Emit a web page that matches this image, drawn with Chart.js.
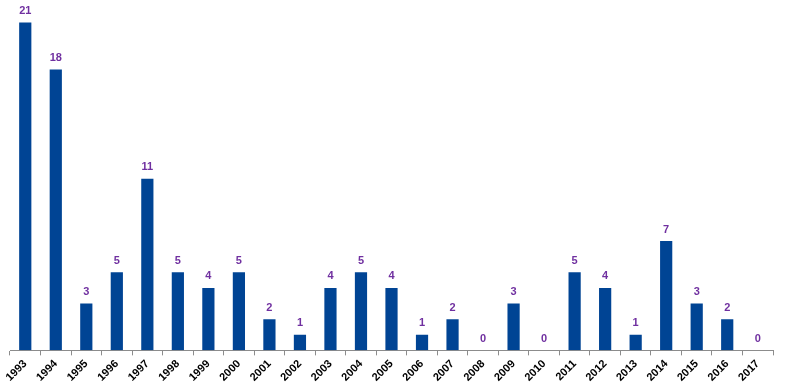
<!DOCTYPE html>
<html>
<head>
<meta charset="utf-8">
<script src="https://cdn.jsdelivr.net/npm/chart.js@4"></script>
<style>
html,body{margin:0;padding:0;background:#fff;}
#wrap{width:785px;height:392px;position:relative;}
</style>
</head>
<body>
<div id="wrap"><canvas id="c" width="785" height="392"></canvas></div>
<script>
const years = ["1993","1994","1995","1996","1997","1998","1999","2000","2001","2002","2003","2004","2005","2006","2007","2008","2009","2010","2011","2012","2013","2014","2015","2016","2017"];
const counts = [21,18,3,5,11,5,4,5,2,1,4,5,4,1,2,0,3,0,5,4,1,7,3,2,0];

const valueLabels = {
  id: 'valueLabels',
  afterDatasetsDraw(chart) {
    const ctx = chart.ctx;
    const meta = chart.getDatasetMeta(0);
    ctx.save();
    ctx.fillStyle = '#7030a0';
    ctx.font = 'bold 11px "Liberation Sans", Arial, sans-serif';
    ctx.textAlign = 'center';
    ctx.textBaseline = 'bottom';
    meta.data.forEach((bar, i) => {
      ctx.fillText(String(counts[i]), bar.x, bar.y - 6);
    });
    ctx.restore();
  }
};

new Chart(document.getElementById('c'), {
  type: 'bar',
  data: {
    labels: years,
    datasets: [{
      data: counts,
      backgroundColor: '#004494',
      categoryPercentage: 1.0,
      barPercentage: 0.4
    }]
  },
  options: {
    responsive: false,
    animation: false,
    layout: { padding: { left: 10, right: 12, top: 7, bottom: 6 } },
    plugins: { legend: { display: false }, tooltip: { enabled: false } },
    scales: {
      x: {
        offset: true,
        grid: { display: true, drawOnChartArea: false, offset: true, tickLength: 5, color: '#8c8c8c' },
        border: { display: true, color: '#8c8c8c' },
        ticks: {
          color: '#000',
          font: { family: '"Liberation Sans", Arial, sans-serif', size: 11, weight: 'bold' },
          maxRotation: 45, minRotation: 45, padding: 2, autoSkip: false
        }
      },
      y: {
        display: false,
        min: 0, max: 22
      }
    }
  },
  plugins: [valueLabels]
});
</script>
</body>
</html>
